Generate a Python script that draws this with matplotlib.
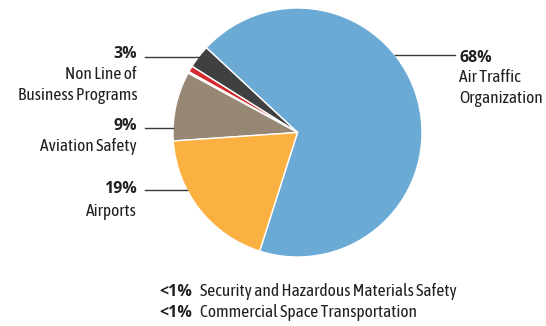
import matplotlib
matplotlib.use('Agg')
import matplotlib.pyplot as plt
from matplotlib import font_manager

# budget shares (percent), counter-clockwise from the bottom
names = ['Air Traffic Organization', 'Non Line of Business Programs',
         'Security and Hazardous Materials Safety', 'Commercial Space Transportation',
         'Aviation Safety', 'Airports']
shares = [68, 3, 0.8, 0.2, 9, 19]
colors = ['#6aaad5', '#3e4042', '#d52b2f', '#9a9a9a', '#968875', '#fbb042']

W, H = 546, 326
cx, cy, r = 297.5, 132.5, 124.5

avail = {f.name for f in font_manager.fontManager.ttflist}
if 'Asap Condensed' in avail:
    fam, fs = 'Asap Condensed', 12.6
elif 'Barlow Semi Condensed' in avail:
    fam, fs = 'Barlow Semi Condensed', 12
else:
    fam, fs = 'Liberation Sans', 10
plt.rcParams['font.family'] = [fam, 'DejaVu Sans']
pct_font = ['Open Sans', 'DejaVu Sans']
txt = '#231f20'

fig = plt.figure(figsize=(W / 100, H / 100), dpi=100)
ax = fig.add_axes([(cx - r) / W, (H - cy - r) / H, 2 * r / W, 2 * r / H])
ax.pie(shares, colors=colors, startangle=-107.7, counterclock=True, radius=1,
       wedgeprops=dict(edgecolor='white', linewidth=1.0))
ax.set_xlim(-1, 1)
ax.set_ylim(-1, 1)
ax.axis('off')


def fx(x):
    return x / W


def fy(y):
    return 1 - y / H


def to_data(px, py):
    return (px - cx) / r, (cy - py) / r


def leader(px_text, py, side):
    x0, y0 = to_data(px_text, py)
    xe = side * (1 - y0 ** 2) ** 0.5
    ax.plot([x0, xe], [y0, y0], color='#3a3a3a', lw=1.0, clip_on=False)


def label(x, base, s, ha='left'):
    fig.text(fx(x), fy(base), s, fontsize=fs, color=txt, va='baseline', ha=ha)


def pct(x, base, s, ha='left'):
    fig.text(fx(x), fy(base), s, fontsize=11.5, fontweight='bold', family=pct_font,
             color=txt, va='baseline', ha=ha)


# right label
leader(455, 55, 1)
pct(459, 62, '68%')
label(459, 82, 'Air Traffic')
label(459, 103, 'Organization')

# left labels
leader(145, 57, -1)
pct(137, 58, '3%', 'right')
label(137, 79, 'Non Line of', ha='right')
label(137, 100, 'Business Programs', ha='right')

leader(145, 128, -1)
pct(137, 130, '9%', 'right')
label(137, 151, 'Aviation Safety', ha='right')

leader(145, 190, -1)
pct(137, 193, '19%', 'right')
label(137, 216, 'Airports', ha='right')

# bottom notes for the tiny slices
for base, name in zip([296, 317], [names[2], names[3]]):
    pct(159, base, '<1%')
    label(200, base, name)

fig.savefig('out.png', dpi=100)
